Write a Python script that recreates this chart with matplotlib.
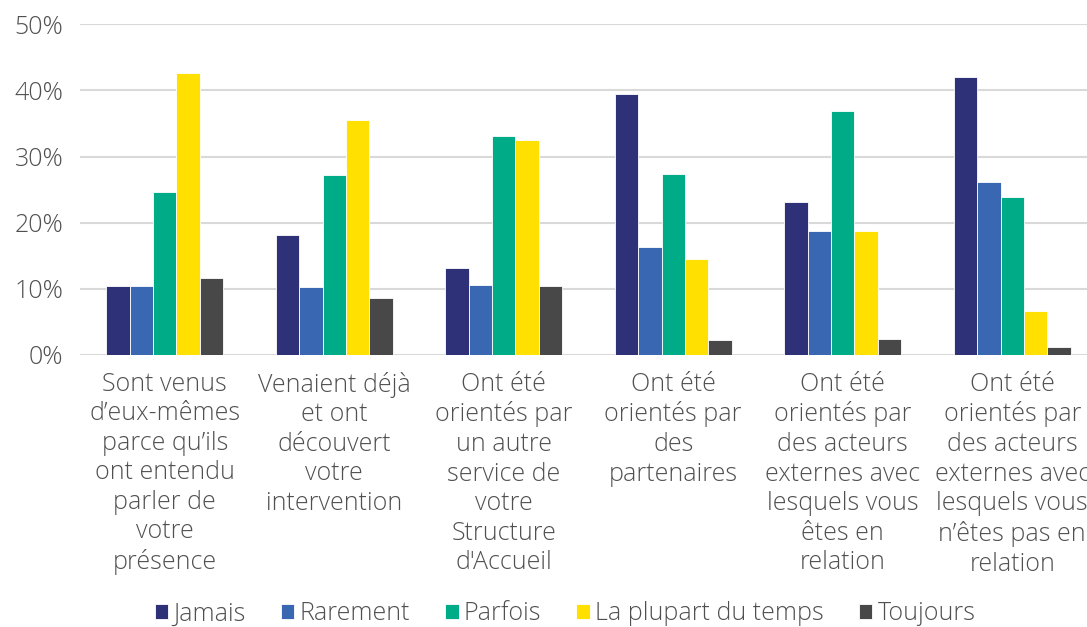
import matplotlib
matplotlib.use("Agg")
import matplotlib.pyplot as plt
import numpy as np
from matplotlib.ticker import PercentFormatter, MultipleLocator

categories = [
    "Sont venus\nd\u2019eux-mêmes\nparce qu\u2019ils\nont entendu\nparler de\nvotre\nprésence",
    "Venaient déjà\net ont\ndécouvert\nvotre\nintervention",
    "Ont été\norientés par\nun autre\nservice de\nvotre\nStructure\nd'Accueil",
    "Ont été\norientés par\ndes\npartenaires",
    "Ont été\norientés par\ndes acteurs\nexternes avec\nlesquels vous\nêtes en\nrelation",
    "Ont été\norientés par\ndes acteurs\nexternes avec\nlesquels vous\nn\u2019êtes pas en\nrelation",
]
series_names = ["Jamais", "Rarement", "Parfois", "La plupart du temps", "Toujours"]
jamais = [10.4, 18.1, 13.2, 39.4, 23.2, 42.0]
rarement = [10.4, 10.3, 10.6, 16.3, 18.7, 26.1]
parfois = [24.6, 27.2, 33.1, 27.4, 36.9, 23.9]
plupart = [42.6, 35.5, 32.5, 14.5, 18.7, 6.6]
toujours = [11.6, 8.6, 10.4, 2.2, 2.4, 1.2]
colors = ["#2E3178", "#3A67B1", "#00AB87", "#FFE000", "#484848"]

plt.rcParams["font.family"] = ["Open Sans", "DejaVu Sans"]
TXT = "#505050"
FS = 18

fig = plt.figure(figsize=(10.87, 6.27), dpi=100)
ax = fig.add_axes([80 / 1087, 1 - 355 / 627, 1017 / 1087, (355 - 24.3) / 627])

x = np.arange(len(categories))
w = 0.138
for i, (vals, name, c) in enumerate(zip([jamais, rarement, parfois, plupart, toujours],
                                        series_names, colors)):
    ax.bar(x + (i - 2) * w, vals, width=w, color=c, edgecolor="white",
           linewidth=0.6, label=name, zorder=3)

ax.set_xlim(-0.5, len(categories) - 0.5)
ax.set_ylim(0, 50)
ax.yaxis.set_major_locator(MultipleLocator(10))
ax.yaxis.set_major_formatter(PercentFormatter(decimals=0))
ax.grid(axis="y", color="#D9D9D9", linewidth=1.5, zorder=0)
for s in ax.spines.values():
    s.set_visible(False)
ax.tick_params(axis="both", length=0, labelsize=FS, labelcolor=TXT)
ax.tick_params(axis="y", pad=12)
ax.tick_params(axis="x", pad=12)
ax.set_xticks(x)
ax.set_xticklabels(categories, linespacing=1.24, fontweight="light")
for t in ax.get_yticklabels():
    t.set_fontweight("light")

leg = ax.legend(loc="center", bbox_to_anchor=(565 / 1087, 13 / 627),
                bbox_transform=fig.transFigure, ncol=5, frameon=False,
                handlelength=0.55, handleheight=0.55, handletextpad=0.2,
                columnspacing=1.4, prop={"size": FS, "weight": "light"})
for t in leg.get_texts():
    t.set_color(TXT)

fig.savefig("out.png", dpi=100)
